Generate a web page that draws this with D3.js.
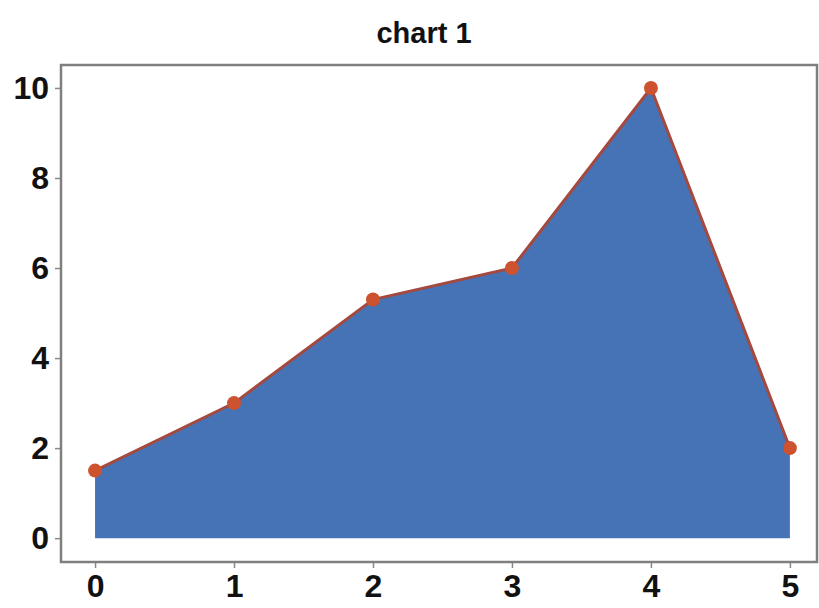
<!DOCTYPE html>
<html>
<head>
<meta charset="utf-8">
<script src="https://cdn.jsdelivr.net/npm/d3@7"></script>
<style>
  body { margin: 0; background: #fff; }
  text { font-family: "Liberation Sans", Arial, sans-serif; font-weight: bold; fill: #111; }
</style>
</head>
<body>
<div id="chart"></div>
<script>
// data
var xValues = [0, 1, 2, 3, 4, 5];
var yValues = [1.5, 3, 5.3, 6, 10, 2];
var xTicks = [0, 1, 2, 3, 4, 5];
var yTicks = [0, 2, 4, 6, 8, 10];
var title = "chart 1";

var svgWidth = 819;
var svgHeight = 608;

// frame (spines) box
var frame = { left: 61, top: 65, right: 817, bottom: 562 };

var svg = d3.select("#chart").append("svg")
    .attr("width", svgWidth)
    .attr("height", svgHeight);

// scales
var xScale = d3.scaleLinear()
    .domain([-0.245, 5.195])
    .range([frame.left, frame.right]);

var yScale = d3.scaleLinear()
    .domain([-0.53, 10.51])
    .range([frame.bottom, frame.top]);

var points = xValues.map(function (x, i) { return { x: x, y: yValues[i] }; });

// area
var area = d3.area()
    .x(d => xScale(d.x))
    .y0(yScale(0))
    .y1(d => yScale(d.y));

svg.append("path")
    .datum(points)
    .attr("d", area)
    .attr("fill", "#4673b6");

// line on top
var line = d3.line()
    .x(d => xScale(d.x))
    .y(d => yScale(d.y));

svg.append("path")
    .datum(points)
    .attr("d", line)
    .attr("fill", "none")
    .attr("stroke", "#a4493f")
    .attr("stroke-width", 3);

// markers
svg.selectAll("circle.pt")
    .data(points)
    .enter()
    .append("circle")
    .classed("pt", true)
    .attr("cx", d => xScale(d.x))
    .attr("cy", d => yScale(d.y))
    .attr("r", 7)
    .attr("fill", "#cc5230");

// axes
var xAxis = d3.axisBottom(xScale).tickValues(xTicks).tickSize(6).tickPadding(6).tickFormat(d3.format("d"));
var yAxis = d3.axisLeft(yScale).tickValues(yTicks).tickSize(6).tickPadding(6).tickFormat(d3.format("d"));

var gx = svg.append("g")
    .attr("transform", `translate(0, ${frame.bottom})`)
    .call(xAxis);
var gy = svg.append("g")
    .attr("transform", `translate(${frame.left}, 0)`)
    .call(yAxis);

[gx, gy].forEach(function (g) {
    g.select(".domain").remove();
    g.selectAll(".tick line").attr("stroke", "#888").attr("stroke-width", 1.5);
    g.selectAll(".tick text")
        .attr("font-size", "32px")
        .style("font-family", "'Liberation Sans', Arial, sans-serif")
        .style("font-weight", "bold")
        .attr("fill", "#111");
});

// spines
svg.append("rect")
    .attr("x", frame.left)
    .attr("y", frame.top)
    .attr("width", frame.right - frame.left)
    .attr("height", frame.bottom - frame.top)
    .attr("fill", "none")
    .attr("stroke", "#7f7f7f")
    .attr("stroke-width", 2.5);

// title
svg.append("text")
    .attr("x", 424)
    .attr("y", 43)
    .attr("text-anchor", "middle")
    .attr("font-size", "29px")
    .text(title);
</script>
</body>
</html>
